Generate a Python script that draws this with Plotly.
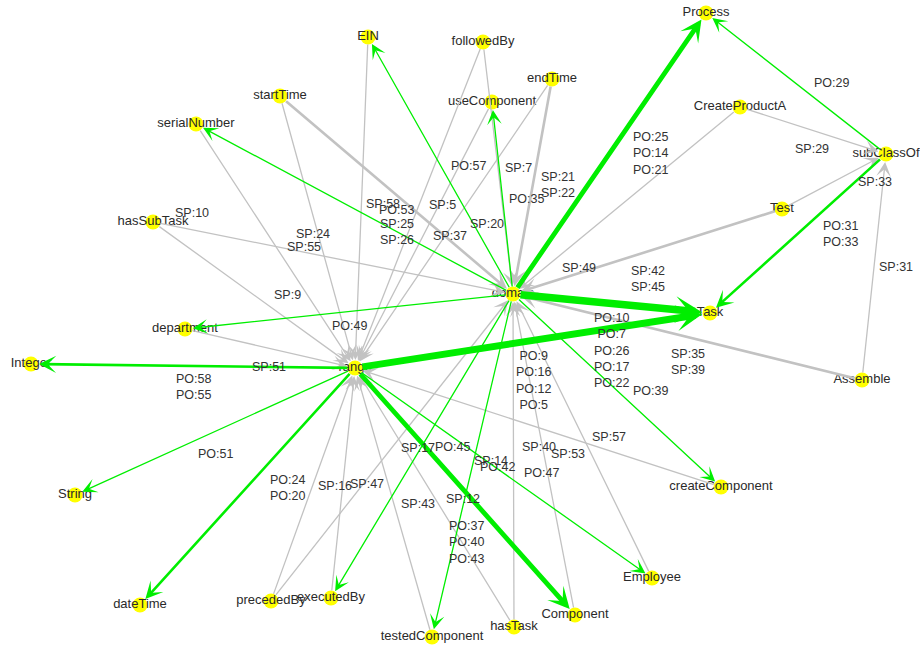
import plotly.graph_objects as go

# ---------------- data ----------------
node_names = ["Process", "EIN", "followedBy", "endTime", "useComponent", "startTime",
              "serialNumber", "CreateProductA", "subClassOf", "Test", "hasSubTask",
              "domain", "Task", "department", "Integer", "range", "Assemble", "String",
              "createComponent", "dateTime", "precededBy", "executedBy", "Employee",
              "testedComponent", "hasTask", "Component"]
# layout positions of the graph nodes (graph layout coordinates)
node_x = [706, 368, 483, 552, 492, 280, 196, 740, 886, 782, 153, 513, 710, 185, 31,
          355, 862, 75, 721, 140, 271, 331, 652, 432, 514, 575]
node_y = [13, 37, 42, 79, 102, 96, 124, 107, 154, 209, 222, 294, 313, 329, 364,
          368, 380, 495, 487, 605, 601, 598, 578, 637, 627, 615]

edge_src = ["startTime", "startTime", "EIN", "serialNumber", "hasSubTask", "hasSubTask",
            "department", "precededBy", "precededBy", "executedBy", "testedComponent",
            "hasTask", "hasTask", "Component", "Employee", "createComponent", "Assemble",
            "Assemble", "Test", "Test", "CreateProductA", "CreateProductA", "useComponent",
            "followedBy", "followedBy", "endTime", "endTime",
            "domain", "subClassOf", "subClassOf", "domain", "domain", "domain", "domain",
            "range", "range", "range", "domain", "domain", "range", "range", "domain",
            "domain", "range"]
edge_dst = ["range", "domain", "range", "range", "range", "domain",
            "range", "range", "domain", "range", "range",
            "range", "domain", "domain", "domain", "range", "domain",
            "subClassOf", "domain", "subClassOf", "domain", "subClassOf", "range",
            "range", "domain", "range", "domain",
            "Process", "Process", "Task", "EIN", "useComponent", "serialNumber", "department",
            "Integer", "String", "dateTime", "executedBy", "testedComponent", "Component",
            "Employee", "createComponent", "Task", "Task"]
edge_labels = [["SP:24"], ["SP:25", "SP:26"], ["SP:58"], ["SP:55"], ["SP:9"], ["SP:10"],
               ["SP:51"], ["SP:16"], ["SP:17"], ["SP:47"], ["SP:43"],
               ["SP:12"], ["SP:14"], ["SP:53"], ["SP:57"], ["SP:40"], ["SP:35", "SP:39"],
               ["SP:31"], ["SP:42", "SP:45"], ["SP:33"], ["SP:49"], ["SP:29"], ["SP:37"],
               ["SP:5"], ["SP:7"], ["SP:20"], ["SP:21", "SP:22"],
               ["PO:25", "PO:14", "PO:21"], ["PO:29"], ["PO:31", "PO:33"], ["PO:57"],
               ["PO:35"], ["PO:53"], ["PO:49"], ["PO:58", "PO:55"], ["PO:51"],
               ["PO:24", "PO:20"], ["PO:45"], ["PO:42"], ["PO:37", "PO:40", "PO:43"],
               ["PO:47"], ["PO:39"], ["PO:10", "PO:7", "PO:26", "PO:17", "PO:22"],
               ["PO:9", "PO:16", "PO:12", "PO:5"]]

# ---------------- style ----------------
# pixel offsets of each edge label from its edge midpoint (label placement)
label_offsets = [(-4.5, 1.5), (0, 37), (21.5, 1), (28.5, 1), (33, 0), (-141, -45),
                 (-1, 18), (22, 1), (26, 0.5), (24, 0.5), (24.5, 1.5),
                 (28.5, 1), (-22.5, 0.5), (24, -0.5), (26.5, 0.5), (1, 19.5), (0, 25),
                 (22, -0.5), (0, 27), (41, 0.5), (-47.5, 67.5), (-1, 18), (26.5, 0.5),
                 (23, -0.5), (20, 0), (33.5, 0), (25.5, -1.5),
                 (40.5, 0), (35, -0.5), (42, 0), (27.5, 0.5), (23.5, 1), (41.5, 0.5),
                 (0, 14.5), (0, 21), (0, 22), (39.5, 1), (30, 1), (24.5, 1), (1, 51),
                 (37.5, 0), (33, 0), (-0.5, 46.5), (0.5, 40)]
width_by_count = {1: 1.3, 2: 2.6, 3: 4.8, 4: 7.0, 5: 7.5}
GRAY = "#c2c2c2"
GREEN = "#00ee00"
FONT = "Arial, Liberation Sans, sans-serif"

pos = {n: (x, y) for n, x, y in zip(node_names, node_x, node_y)}

fig = go.Figure()

annotations = []
# edges as arrows
for s, d, labs in zip(edge_src, edge_dst, edge_labels):
    sx, sy = pos[s]
    dx, dy = pos[d]
    w = width_by_count[len(labs)]
    col = GREEN if labs[0].startswith("PO") else GRAY
    head = 12 + 2.0 * w
    annotations.append(dict(
        x=dx, y=dy, ax=sx, ay=sy, xref="x", yref="y", axref="x", ayref="y",
        text="", showarrow=True, arrowhead=3, arrowwidth=w,
        arrowsize=head / (6.0 * w), arrowcolor=col, standoff=8, startstandoff=6))

# edge labels
for (s, d, labs), (ox, oy) in zip(zip(edge_src, edge_dst, edge_labels), label_offsets):
    sx, sy = pos[s]
    dx, dy = pos[d]
    mx, my = (sx + dx) / 2 + ox, (sy + dy) / 2 + oy
    annotations.append(dict(
        x=mx, y=my, xref="x", yref="y", text="<br>".join(labs), showarrow=False,
        xanchor="center", yanchor="middle",
        font=dict(family=FONT, size=12.5, color="#333333")))

fig.add_trace(go.Scatter(
    x=node_x, y=node_y, mode="markers+text", text=node_names,
    textposition="middle center",
    marker=dict(size=15, color="#ffff00", line=dict(width=0)),
    textfont=dict(family=FONT, size=13, color="#2a2a2a"),
    hoverinfo="text", showlegend=False))

fig.update_layout(
    width=920, height=648,
    margin=dict(l=0, r=0, t=0, b=0),
    paper_bgcolor="white", plot_bgcolor="white",
    xaxis=dict(range=[0, 920], visible=False, fixedrange=True),
    yaxis=dict(range=[648, 0], visible=False, fixedrange=True),
    annotations=annotations,
    showlegend=False,
)

fig.write_html("out.html", config={"displayModeBar": False},
               post_script="document.body.style.margin='0px';")
